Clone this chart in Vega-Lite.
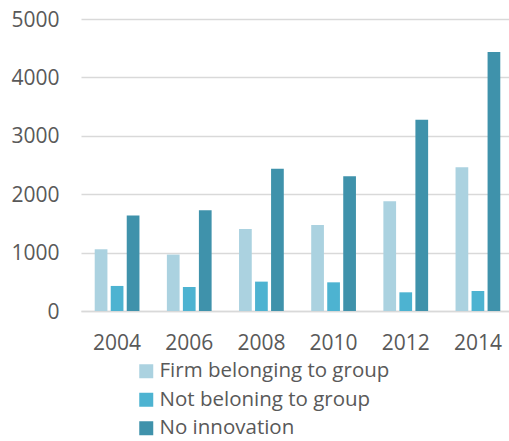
{
  "$schema": "https://vega.github.io/schema/vega-lite/v6.json",
  "width": 428,
  "height": 292,
  "autosize": {"type": "none"},
  "padding": {"left": 81, "top": 19, "right": 0, "bottom": 130},
  "background": "white",
  "config": {
    "view": {"stroke": null},
    "font": "Open Sans"
  },
  "data": {
    "values": [
      {"year": "2004", "series": "Firm belonging to group", "value": 1057},
      {"year": "2004", "series": "Not beloning to group", "value": 429},
      {"year": "2004", "series": "No innovation", "value": 1634},
      {"year": "2006", "series": "Firm belonging to group", "value": 966},
      {"year": "2006", "series": "Not beloning to group", "value": 411},
      {"year": "2006", "series": "No innovation", "value": 1726},
      {"year": "2008", "series": "Firm belonging to group", "value": 1406},
      {"year": "2008", "series": "Not beloning to group", "value": 503},
      {"year": "2008", "series": "No innovation", "value": 2434},
      {"year": "2010", "series": "Firm belonging to group", "value": 1474},
      {"year": "2010", "series": "Not beloning to group", "value": 491},
      {"year": "2010", "series": "No innovation", "value": 2309},
      {"year": "2012", "series": "Firm belonging to group", "value": 1880},
      {"year": "2012", "series": "Not beloning to group", "value": 320},
      {"year": "2012", "series": "No innovation", "value": 3274},
      {"year": "2014", "series": "Firm belonging to group", "value": 2463},
      {"year": "2014", "series": "Not beloning to group", "value": 343},
      {"year": "2014", "series": "No innovation", "value": 4434}
    ]
  },
  "mark": {"type": "bar"},
  "encoding": {
    "x": {
      "field": "year",
      "type": "ordinal",
      "scale": {"range": [0, 433], "paddingInner": 0.38, "paddingOuter": 0.19},
      "axis": {
        "title": null,
        "labelAngle": 0,
        "labelFontSize": 21,
        "labelColor": "#595959",
        "labelBaseline": "alphabetic",
        "labelPadding": 38,
        "ticks": false,
        "tickSize": 0,
        "domainColor": "#d9d9d9",
        "domainWidth": 1.3
      }
    },
    "xOffset": {
      "field": "series",
      "type": "nominal",
      "sort": ["Firm belonging to group", "Not beloning to group", "No innovation"],
      "scale": {"paddingInner": 0.206, "paddingOuter": 0}
    },
    "y": {
      "field": "value",
      "type": "quantitative",
      "scale": {"domain": [0, 5000], "nice": false},
      "axis": {
        "title": null,
        "values": [0, 1000, 2000, 3000, 4000, 5000],
        "format": "d",
        "labelFontSize": 21,
        "labelColor": "#595959",
        "labelPadding": 22,
        "labelOffset": 1,
        "ticks": false,
        "tickSize": 0,
        "domain": false,
        "grid": true,
        "gridColor": "#d9d9d9",
        "gridWidth": 1.3
      }
    },
    "color": {
      "field": "series",
      "type": "nominal",
      "scale": {
        "domain": ["Firm belonging to group", "Not beloning to group", "No innovation"],
        "range": ["#abd2e0", "#4db3d1", "#3f92ab"]
      },
      "legend": {
        "title": null,
        "orient": "none",
        "legendX": 55,
        "legendY": 342,
        "direction": "vertical",
        "symbolType": "square",
        "symbolSize": 196,
        "symbolStrokeWidth": 0,
        "symbolOpacity": 1,
        "labelFontSize": 20.5,
        "labelColor": "#595959",
        "labelOffset": 3,
        "rowPadding": 7.5,
        "padding": 0,
        "labelLimit": 400
      }
    }
  }
}
